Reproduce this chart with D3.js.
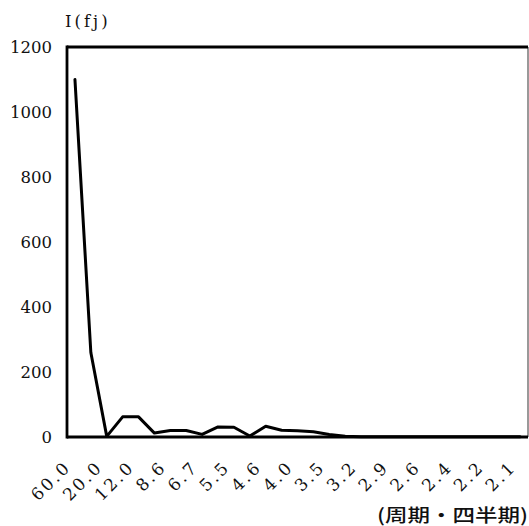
<!DOCTYPE html>
<html>
<head>
<meta charset="utf-8">
<script src="https://cdn.jsdelivr.net/npm/d3@7"></script>
<style>
  html, body { margin: 0; padding: 0; background: #fff; }
  svg { display: block; }
</style>
</head>
<body>
<svg id="chart" width="529" height="526"></svg>
<script>
// Periods (quarters) for each frequency of the spectrum, 60/j for j = 1..29
const periods = ["60.0", "30.0", "20.0", "15.0", "12.0", "10.0", "8.6", "7.5", "6.7", "6.0",
                 "5.5", "5.0", "4.6", "4.3", "4.0", "3.8", "3.5", "3.3", "3.2", "3.0",
                 "2.9", "2.7", "2.6", "2.5", "2.4", "2.3", "2.2", "2.1", "2.1"];
// Spectral intensity I(fj)
const intensity = [1100, 260, 2, 62, 62, 12, 20, 20, 8, 31,
                   30, 3, 33, 21, 19, 16, 8, 2, 1, 1,
                   1, 0.5, 0.5, 0.5, 0.5, 0.5, 0.5, 0.5, 0.5];
const yTicks = [0, 200, 400, 600, 800, 1000, 1200];

const serif = "'DejaVu Serif', serif";
const cjk = "'Noto Sans CJK JP', sans-serif";

const svg = d3.select("#chart");
const plotL = 67, plotR = 528, plotT = 47, plotB = 437;

const x = d3.scalePoint().domain(d3.range(periods.length)).range([plotL, plotR]).padding(0.5);
const y = d3.scaleLinear().domain([0, 1200]).range([plotB, plotT]);

// frame: thin grey on the right, heavy black elsewhere
svg.append("line").attr("x1", plotR).attr("x2", plotR).attr("y1", plotT).attr("y2", plotB)
  .attr("stroke", "#777").attr("stroke-width", 1.5);
svg.append("line").attr("x1", plotL).attr("x2", plotR).attr("y1", plotT).attr("y2", plotT)
  .attr("stroke", "#000").attr("stroke-width", 2.8);

// y axis labels
svg.append("g").selectAll("text").data(yTicks).join("text")
  .attr("font-family", serif)
  .attr("fill", "#111")
  .attr("x", 52)
  .attr("y", d => y(d))
  .attr("text-anchor", "end")
  .attr("dy", "0.36em")
  .attr("font-size", 16.5)
  .text(d => d);

// axis lines
svg.append("line").attr("x1", plotL).attr("x2", plotL).attr("y1", plotT - 1.4).attr("y2", plotB + 1.4)
  .attr("stroke", "#000").attr("stroke-width", 2.8);
svg.append("line").attr("x1", plotL).attr("x2", plotR).attr("y1", plotB).attr("y2", plotB)
  .attr("stroke", "#000").attr("stroke-width", 2.8);

// spectrum line
const line = d3.line().x((d, i) => x(i)).y(d => y(d));
svg.append("path").datum(intensity)
  .attr("d", line)
  .attr("fill", "none")
  .attr("stroke", "#000")
  .attr("stroke-width", 3)
  .attr("stroke-linejoin", "round")
  .attr("stroke-linecap", "round");

// x axis labels, every other period, rotated
svg.append("g").selectAll("text")
  .data(d3.range(0, periods.length, 2)).join("text")
  .attr("font-family", serif)
  .attr("fill", "#111")
  .attr("transform", i => `translate(${x(i) - 3},468) rotate(-45)`)
  .attr("text-anchor", "end")
  .attr("font-size", 17)
  .attr("letter-spacing", 2.5)
  .text(i => periods[i]);

// axis titles
svg.append("text")
  .attr("font-family", serif)
  .attr("fill", "#111")
  .attr("x", 65)
  .attr("y", 27)
  .attr("font-size", 16.5)
  .attr("letter-spacing", 3)
  .text("I(fj)");

svg.append("text")
  .attr("font-family", cjk)
  .attr("fill", "#111")
  .attr("transform", "translate(528,522) scale(1.25,1)")
  .attr("text-anchor", "end")
  .attr("font-size", 18)
  .attr("font-weight", 500)
  .text("(周期・四半期)");
</script>
</body>
</html>
